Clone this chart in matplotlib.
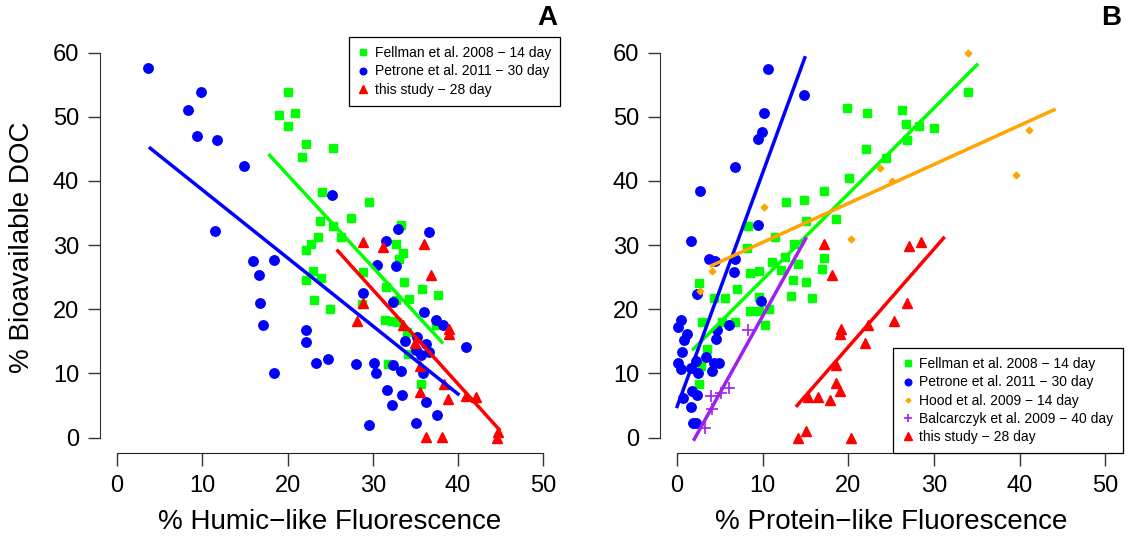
import numpy as np
import matplotlib.pyplot as plt
from matplotlib.lines import Line2D

plt.rcParams['font.family'] = ['Liberation Sans', 'DejaVu Sans']

# ---- Panel A: humic-like fluorescence ----
a_fell_x = [20.0, 19.0, 20.9, 20.0, 21.7, 22.2, 25.3, 24.0, 29.5, 27.4, 23.8, 25.3, 23.6,
            22.8, 22.2, 26.3, 33.3, 32.7, 33.6, 33.1, 23.0, 23.9, 22.2, 28.9, 33.7, 31.6,
            35.8, 37.7, 34.2, 23.1, 25.0, 28.7, 32.7, 31.4, 32.2, 32.8, 34.0, 37.4, 34.1,
            31.8, 35.6]
a_fell_y = [53.8, 50.3, 50.6, 48.6, 43.7, 45.8, 45.2, 38.3, 36.8, 34.3, 33.8, 33.0, 31.3,
            30.2, 29.3, 31.3, 33.2, 30.2, 28.8, 27.9, 25.9, 24.9, 24.5, 25.8, 24.3, 23.4,
            23.1, 22.3, 21.6, 21.5, 20.0, 20.8, 21.5, 18.4, 18.1, 18.0, 16.5, 17.6, 13.1,
            11.4, 8.4]

a_petr_x = [3.6, 8.3, 9.9, 9.4, 11.7, 11.5, 14.9, 16.0, 18.4, 16.7, 16.8, 17.1, 18.4,
            22.2, 22.2, 23.3, 24.8, 25.2, 33.0, 31.5, 36.6, 30.5, 32.7, 28.8, 32.4, 36.0,
            37.4, 38.2, 35.2, 33.8, 36.3, 35.1, 36.6, 35.6, 40.9, 28.0, 30.1, 30.4, 32.4,
            33.3, 35.9, 31.7, 33.4, 32.2, 36.2, 37.5, 29.6, 35.1]
a_petr_y = [57.6, 51.0, 53.8, 47.0, 46.4, 32.2, 42.4, 27.5, 27.7, 25.3, 21.0, 17.6, 10.0,
            16.8, 14.9, 11.6, 12.3, 37.8, 32.5, 30.7, 32.0, 26.9, 26.7, 22.5, 21.1, 19.6,
            18.4, 17.5, 15.7, 15.1, 14.6, 13.7, 13.4, 12.9, 14.2, 11.4, 11.6, 10.0, 11.3,
            10.4, 10.0, 7.4, 6.6, 5.1, 5.5, 3.5, 2.0, 2.2]

a_this_x = [28.9, 31.2, 36.0, 36.8, 28.9, 28.1, 33.5, 34.9, 38.9, 39.0, 35.5, 38.3, 35.5,
            38.8, 40.9, 42.1, 44.7, 44.6, 36.2, 38.1]
a_this_y = [30.5, 29.7, 30.2, 25.4, 21.0, 18.1, 17.5, 14.7, 16.9, 16.2, 11.2, 8.3, 7.1,
            6.0, 6.5, 6.4, 0.9, 0.0, 0.1, 0.1]

# regression lines (end points)
a_fit_fell = ([17.9, 38.1], [44.0, 14.9])
a_fit_petr = ([3.9, 40.0], [45.1, 6.8])
a_fit_this = ([25.9, 44.8], [29.1, 1.3])

# ---- Panel B: protein-like fluorescence ----
b_fell_x = [34.0, 19.8, 22.2, 26.2, 26.7, 28.25, 30.0, 26.8, 22.0, 24.35, 20.05, 17.2,
            14.8, 12.7, 18.6, 15.1, 8.3, 11.45, 13.6, 8.2, 12.6, 17.2, 11.05, 14.1, 12.1,
            16.9, 8.5, 9.6, 13.5, 15.1, 2.6, 7.0, 13.3, 15.8, 4.3, 5.6, 9.6, 8.5, 9.5,
            10.7, 10.2, 6.7, 5.2, 2.9, 3.5, 2.8, 2.5]
b_fell_y = [53.9, 51.4, 50.6, 51.0, 48.9, 48.6, 48.3, 46.4, 45.0, 43.6, 40.5, 38.4,
            37.1, 36.7, 34.0, 33.8, 33.0, 31.2, 30.2, 29.6, 28.1, 28.0, 27.4, 27.0, 26.2,
            26.3, 25.6, 25.9, 24.5, 24.3, 24.1, 23.2, 22.1, 21.8, 21.8, 21.8, 21.9, 19.8,
            19.8, 20.1, 17.6, 18.0, 18.0, 18.0, 13.8, 11.2, 8.3]

b_petr_x = [10.6, 10.1, 9.9, 9.4, 14.8, 6.8, 2.7, 1.6, 9.4, 3.75, 4.4, 6.8, 6.65, 2.35,
            9.8, 0.4, 0.05, 1.2, 0.8, 0.6, 6.1, 4.7, 4.5, 3.4, 0.1, 0.4, 1.6, 2.2, 4.3, 4.9,
            4.1, 2.4, 1.7, 2.3, 0.7, 1.6, 1.8, 2.2]
b_petr_y = [57.4, 50.6, 47.6, 46.6, 53.4, 42.2, 38.4, 30.7, 33.1, 27.9, 27.5, 27.9, 25.8,
            22.4, 21.3, 18.3, 17.3, 16.2, 15.2, 13.3, 17.5, 16.7, 15.4, 12.5, 11.6, 10.7,
            10.8, 11.9, 11.6, 11.6, 10.4, 10.1, 7.3, 6.6, 6.1, 4.7, 2.3, 2.2]

b_hood_x = [33.9, 41.1, 39.6, 23.7, 25.1, 20.3, 10.1, 4.1, 2.7]
b_hood_y = [60.0, 48.0, 41.0, 42.0, 40.0, 30.9, 35.9, 25.9, 22.9]

b_balc_x = [8.3, 6.1, 5.1, 3.9, 4.1, 3.3]
b_balc_y = [16.8, 7.7, 7.0, 6.5, 4.5, 1.5]

b_this_x = [17.2, 27.1, 28.5, 18.1, 26.8, 25.3, 19.15, 19.0, 22.3, 21.9, 18.5, 18.5,
            19.0, 17.8, 16.45, 15.3, 14.1, 15.0, 20.3]
b_this_y = [30.2, 29.8, 30.5, 25.4, 21.0, 18.2, 17.0, 16.2, 17.5, 14.8, 11.3, 8.5,
            7.2, 5.9, 6.4, 6.4, 0.0, 1.0, 0.0]

b_fit_fell = ([1.9, 35.0], [13.8, 58.1])
b_fit_petr = ([0.0, 14.9], [4.85, 59.2])
b_fit_hood = ([4.0, 44.0], [26.8, 51.1])
b_fit_balc = ([2.0, 15.0], [-0.25, 31.0])
b_fit_this = ([14.0, 31.1], [5.0, 31.1])

GREEN = '#00ff00'
BLUE = '#0000ff'
RED = '#ff0000'
ORANGE = '#ffa500'
PURPLE = '#a020f0'

lab_fell = 'Fellman et al. 2008 − 14 day'
lab_petr = 'Petrone et al. 2011 − 30 day'
lab_hood = 'Hood et al. 2009 − 14 day'
lab_balc = 'Balcarczyk et al. 2009 − 40 day'
lab_this = 'this study − 28 day'

sty = {
    'fell': dict(marker='s', ms=6.3, color=GREEN, ls='none'),
    'petr': dict(marker='o', ms=6.8, color=BLUE, ls='none'),
    'this': dict(marker='^', ms=7.6, color=RED, ls='none'),
    'hood': dict(marker='D', ms=3.4, color=ORANGE, ls='none'),
    'balc': dict(marker='+', ms=8.6, mew=1.2, color=PURPLE, ls='none'),
}


def style_axes(ax):
    ax.set_xlim(-2, 52)
    ax.set_ylim(-2.4, 62.4)
    for s in ['top', 'right']:
        ax.spines[s].set_visible(False)
    ax.spines['left'].set_bounds(0, 60)
    ax.spines['bottom'].set_bounds(0, 50)
    ax.spines['left'].set_color('#333333')
    ax.spines['bottom'].set_color('#222222')
    ax.set_xticks(range(0, 51, 10))
    ax.set_yticks(range(0, 61, 10))
    ax.tick_params(axis='both', labelsize=17, length=9, width=1, colors='#333333',
                   labelcolor='black')
    ax.tick_params(axis='x', pad=7)
    ax.tick_params(axis='y', pad=6)


def add_legend(ax, keys, labels, loc):
    handles = [Line2D([], [], **sty[k]) for k in keys]
    leg = ax.legend(handles, labels, loc=loc, borderaxespad=0, fontsize=10,
                    markerscale=0.7, handlelength=0.8, handletextpad=0.45,
                    borderpad=0.65, labelspacing=0.3, fancybox=False,
                    edgecolor='black', framealpha=1)
    leg.get_frame().set_linewidth(0.9)


W, H = 1130, 539
fig = plt.figure(figsize=(W / 100, H / 100), dpi=100)
axA = fig.add_axes([100 / W, 86 / H, 460.3 / W, 415.7 / H])
axB = fig.add_axes([660 / W, 86 / H, 462.6 / W, 415.7 / H])

# panel A
axA.plot(a_fell_x, a_fell_y, **sty['fell'])
axA.plot(a_petr_x, a_petr_y, **sty['petr'])
axA.plot(a_this_x, a_this_y, **sty['this'])
axA.plot(*a_fit_fell, color=GREEN, lw=2.5)
axA.plot(*a_fit_petr, color=BLUE, lw=2.5)
axA.plot(*a_fit_this, color=RED, lw=2.5)
style_axes(axA)
add_legend(axA, ['fell', 'petr', 'this'], [lab_fell, lab_petr, lab_this], 'upper right')

# panel B
axB.plot(b_fell_x, b_fell_y, **sty['fell'])
axB.plot(b_petr_x, b_petr_y, **sty['petr'])
axB.plot(b_hood_x, b_hood_y, **sty['hood'])
axB.plot(b_balc_x, b_balc_y, **sty['balc'])
axB.plot(b_this_x, b_this_y, **sty['this'])
axB.plot(*b_fit_fell, color=GREEN, lw=2.5)
axB.plot(*b_fit_petr, color=BLUE, lw=2.5)
axB.plot(*b_fit_hood, color=ORANGE, lw=2.5)
axB.plot(*b_fit_balc, color=PURPLE, lw=2.5)
axB.plot(*b_fit_this, color=RED, lw=2.5)
style_axes(axB)
add_legend(axB, ['fell', 'petr', 'hood', 'balc', 'this'],
           [lab_fell, lab_petr, lab_hood, lab_balc, lab_this], 'lower right')

# labels
fig.text(22 / W, 1 - 247 / H, '% Bioavailable DOC', rotation=90, ha='center',
         va='center', fontsize=20)
fig.text(330 / W, 1 - 522 / H, '% Humic−like Fluorescence', ha='center',
         va='center', fontsize=20)
fig.text(891 / W, 1 - 522 / H, '% Protein−like Fluorescence', ha='center',
         va='center', fontsize=20)
fig.text(547 / W, 1 - 18 / H, 'A', ha='center', va='center', fontsize=20,
         fontweight='bold')
fig.text(1111 / W, 1 - 18 / H, 'B', ha='center', va='center', fontsize=20,
         fontweight='bold')

fig.savefig('out.png', dpi=100)
